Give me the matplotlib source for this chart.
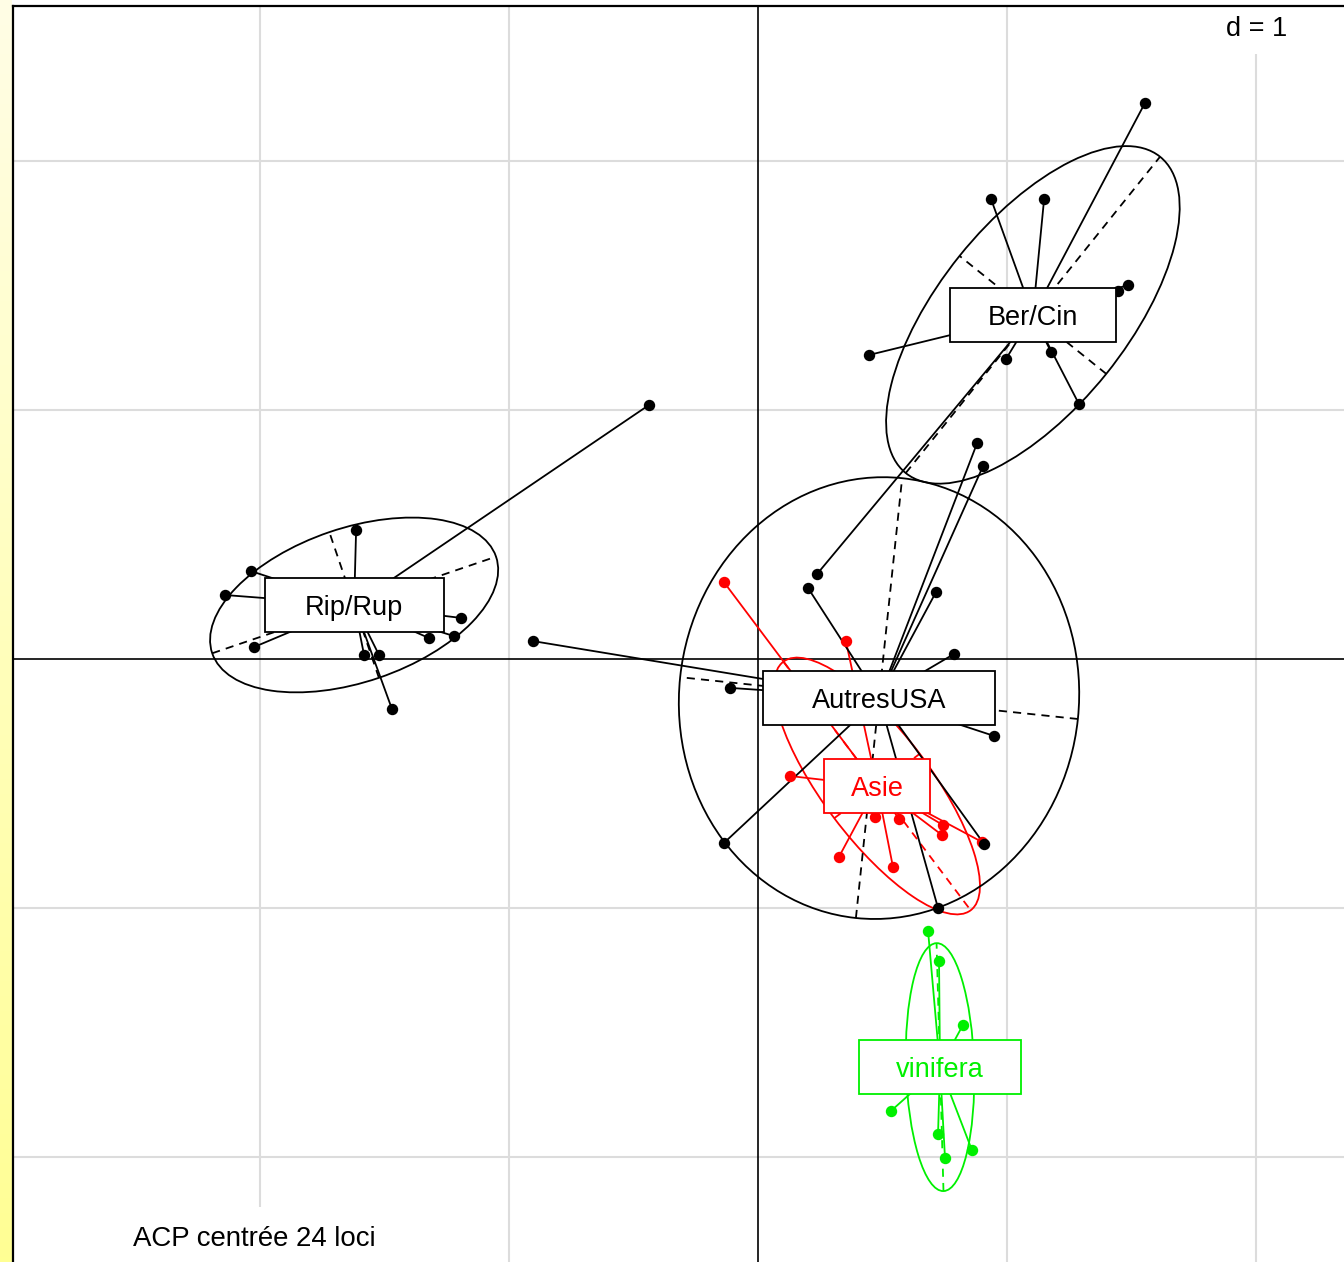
import numpy as np
import matplotlib
matplotlib.use("Agg")
import matplotlib.pyplot as plt
from matplotlib.patches import Ellipse, Rectangle

# ---------------- data (PCA coordinates) ----------------
groups = ["Rip/Rup", "Ber/Cin", "AutresUSA", "Asie", "vinifera"]
group_colors = ["black", "black", "black", "#FF0000", "#00F000"]

# group centroids (label positions)
cent_x = [-1.622, 1.104, 0.486, 0.478, 0.731]
cent_y = [0.217, 1.382, -0.157, -0.510, -1.639]

# inertia ellipses: half major axis, half minor axis, angle (deg)
ell_a = [0.602, 0.815, 0.888, 0.625, 0.498]
ell_b = [0.309, 0.378, 0.803, 0.215, 0.137]
ell_ang = [18.8, 51.2, 84.0, -53.0, 91.6]

riprup_x = [-1.614, -2.036, -2.141, -2.024, -1.193, -1.221, -1.321, -1.582, -1.522, -1.470, -0.438]
riprup_y = [0.518, 0.353, 0.257, 0.048, 0.165, 0.092, 0.084, 0.016, 0.016, -0.201, 1.020]

bercin_x = [0.936, 1.149, 1.486, 1.446, 0.446, 0.996, 1.177, 1.289, 1.554, 0.237]
bercin_y = [1.847, 1.847, 1.502, 1.478, 1.221, 1.205, 1.233, 1.024, 2.233, 0.341]

autres_x = [-0.904, -0.112, 0.201, 0.715, 0.787, 0.948, 0.880, 0.904, -0.137, 0.908, 0.723]
autres_y = [0.072, -0.116, 0.285, 0.269, 0.020, -0.309, 0.867, 0.775, -0.739, -0.743, -1.000]

asie_x = [0.129, 0.470, 0.566, 0.743, 0.739, 0.325, 0.542, 0.353, -0.137, 0.900]
asie_y = [-0.470, -0.635, -0.643, -0.667, -0.707, -0.795, -0.835, 0.072, 0.309, -0.735]

vinif_x = [0.683, 0.727, 0.823, 0.534, 0.723, 0.859, 0.751]
vinif_y = [-1.092, -1.213, -1.470, -1.815, -1.908, -1.972, -2.004]

pts_x = [riprup_x, bercin_x, autres_x, asie_x, vinif_x]
pts_y = [riprup_y, bercin_y, autres_y, asie_y, vinif_y]

grid_vals = [-2, -1, 1, 2]
subtitle = "ACP centrée 24 loci"
scale_label = "d = 1"

# ---------------- figure ----------------
W, H, DPI = 1344, 1262, 100
PX = 249.0            # pixels per unit
X0, Y0 = 758, 659     # pixel position of origin
FONT = "Liberation Sans"

fig = plt.figure(figsize=(W / DPI, H / DPI), dpi=DPI)

# yellowish strip at the far left (screenshot border)
sax = fig.add_axes([0, 0, 12 / W, 1])
g = np.linspace(0, 1, 256)[:, None, None]
top = np.array([1.0, 0.995, 0.90])
bot = np.array([1.0, 1.0, 0.58])
sax.imshow(top * (1 - g) + bot * g, aspect="auto", extent=[0, 1, 0, 1], origin="upper")
sax.axis("off")

ax = fig.add_axes([13 / W, 0, 1 - 13 / W, (H - 6) / H])
ax.set_xlim((13 - X0) / PX, (W - X0) / PX)
ax.set_ylim((Y0 - H) / PX, (Y0 - 6) / PX)
ax.set_xticks([])
ax.set_yticks([])
for s in ["right", "bottom"]:
    ax.spines[s].set_visible(False)
for s in ["left", "top"]:
    ax.spines[s].set_linewidth(1.6)
    ax.spines[s].set_color("black")

xl = ax.get_xlim()
yl = ax.get_ylim()

for v in grid_vals:
    ax.axvline(v, color="#DCDCDC", lw=1.5, zorder=0.5)
    ax.axhline(v, color="#DCDCDC", lw=1.5, zorder=0.5)

# white boxes behind subtitle and scale text
ax.add_patch(Rectangle((xl[0], yl[0]), (390 - 13) / PX, (H - 1207) / PX,
                       fc="white", ec="none", zorder=0.8))
ax.add_patch(Rectangle(((1200 - X0) / PX, (Y0 - 54) / PX), 3, 3,
                       fc="white", ec="none", zorder=0.8))

ax.axhline(0, color="black", lw=1.2, zorder=1)
ax.axvline(0, color="black", lw=1.2, zorder=1)

LW = 1.3
dash = (0, (4.5, 3.4))
draw_order = [0, 1, 3, 2, 4]
for i in draw_order:
    c = group_colors[i]
    cx, cy = cent_x[i], cent_y[i]
    a, b, ang = ell_a[i], ell_b[i], ell_ang[i]
    th = np.deg2rad(ang)
    ax.add_patch(Ellipse((cx, cy), 2 * a, 2 * b, angle=ang, fill=False,
                         ec=c, lw=LW, zorder=2))
    ux, uy = np.cos(th), np.sin(th)
    ax.plot([cx - a * ux, cx + a * ux], [cy - a * uy, cy + a * uy],
            color=c, lw=LW, linestyle=dash, zorder=2)
    ax.plot([cx + b * uy, cx - b * uy], [cy - b * ux, cy + b * ux],
            color=c, lw=LW, linestyle=dash, zorder=2)
    for px_, py_ in zip(pts_x[i], pts_y[i]):
        ax.plot([px_, cx], [py_, cy], color=c, lw=LW, zorder=2.5)
    ax.plot(pts_x[i], pts_y[i], "o", color=c, ms=7.2, mec=c, zorder=3)

# labels with boxes
fig.canvas.draw()
renderer = fig.canvas.get_renderer()
FS = 19.5
for i in range(len(groups)):
    c = group_colors[i]
    cx, cy = cent_x[i], cent_y[i]
    tmp = ax.text(0, 0, " " + groups[i] + " ", fontsize=FS, family=FONT)
    wpx = tmp.get_window_extent(renderer).width
    tmp.remove()
    bw = 1.58 * wpx / PX
    bh = 54 / PX
    ax.add_patch(Rectangle((cx - bw / 2, cy - bh / 2), bw, bh, fc="white",
                           ec=c, lw=LW, zorder=5))
    ax.text(cx, cy - 9.7 / PX, groups[i], fontsize=FS, family=FONT, color=c,
            ha="center", va="baseline", zorder=6)

ax.text((1257 - X0) / PX, (Y0 - 36) / PX, scale_label, fontsize=FS, family=FONT,
        ha="center", va="baseline", zorder=6)
ax.text((133 - X0) / PX, (Y0 - 1246) / PX, subtitle, fontsize=19.9, family=FONT,
        ha="left", va="baseline", zorder=6)

fig.savefig("out.png", dpi=DPI)
